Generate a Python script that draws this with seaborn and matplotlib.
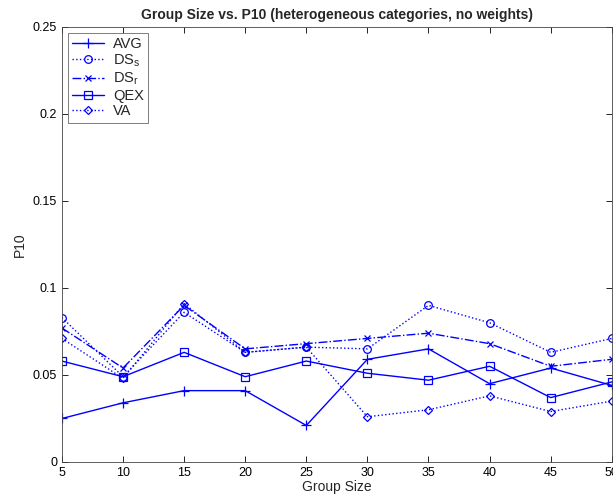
import numpy as np
import pandas as pd
import matplotlib
matplotlib.use("Agg")
import matplotlib.pyplot as plt
import seaborn as sns
from matplotlib.ticker import FuncFormatter

# values
group_sizes = [5, 10, 15, 20, 25, 30, 35, 40, 45, 50]
avg = [0.025, 0.034, 0.041, 0.041, 0.021, 0.059, 0.065, 0.045, 0.054, 0.044]
ds_s = [0.083, 0.049, 0.086, 0.063, 0.066, 0.065, 0.090, 0.080, 0.063, 0.071]
ds_r = [0.077, 0.054, 0.090, 0.065, 0.068, 0.071, 0.074, 0.068, 0.055, 0.059]
qex = [0.058, 0.049, 0.063, 0.049, 0.058, 0.051, 0.047, 0.055, 0.037, 0.046]
va = [0.071, 0.048, 0.091, 0.063, 0.066, 0.026, 0.030, 0.038, 0.029, 0.035]

# name, values, line style, marker, marker size
series = [
    ("AVG", avg, "-", "+", 7),
    ("DS$_\\mathregular{s}$", ds_s, ":", "o", 5.5),
    ("DS$_\\mathregular{r}$", ds_r, "-.", "x", 5),
    ("QEX", qex, "-", "s", 5.5),
    ("VA", va, ":", "D", 4.5),
]

sns.set_style("ticks")
plt.rcParams["font.family"] = ["Liberation Sans", "DejaVu Sans"]

fig = plt.figure(figsize=(6.13, 4.98), dpi=100)
ax = fig.add_axes([0.101, 0.0723, 0.897, 0.8737])

blue = "#0000ff"
for name, vals, ls, mk, ms in series:
    df = pd.DataFrame({"size": group_sizes, "p10": vals})
    sns.lineplot(data=df, x="size", y="p10", ax=ax, color=blue, linestyle=ls,
                 linewidth=1.0, marker=mk, markersize=ms,
                 markerfacecolor="none", markeredgecolor=blue, markeredgewidth=0.9,
                 label=name)

ax.set_xlim(5, 50)
ax.set_ylim(0, 0.25)
ax.set_xticks(group_sizes)
ax.set_yticks([0, 0.05, 0.1, 0.15, 0.2, 0.25])
ax.yaxis.set_major_formatter(FuncFormatter(lambda v, p: "%g" % v))
ax.tick_params(direction="in", top=True, right=True, labelsize=9, length=4,
               width=0.6, colors="black")
for sp in ax.spines.values():
    sp.set_linewidth(0.6)
    sp.set_color("#444444")

ax.set_xlabel("Group Size", fontsize=10, labelpad=1)
ax.set_ylabel("P10", fontsize=10)
ax.set_title("Group Size vs. P10 (heterogeneous categories, no weights)",
             fontsize=10, fontweight="bold", pad=6)

leg = ax.legend(loc="upper left", fontsize=10.5, frameon=True, fancybox=False,
                handlelength=2.2, borderpad=0.3, labelspacing=0.1,
                handletextpad=0.6, borderaxespad=0.4)
leg.get_frame().set_edgecolor("#444444")
leg.get_frame().set_linewidth(0.6)

fig.savefig("out.png", dpi=100)
